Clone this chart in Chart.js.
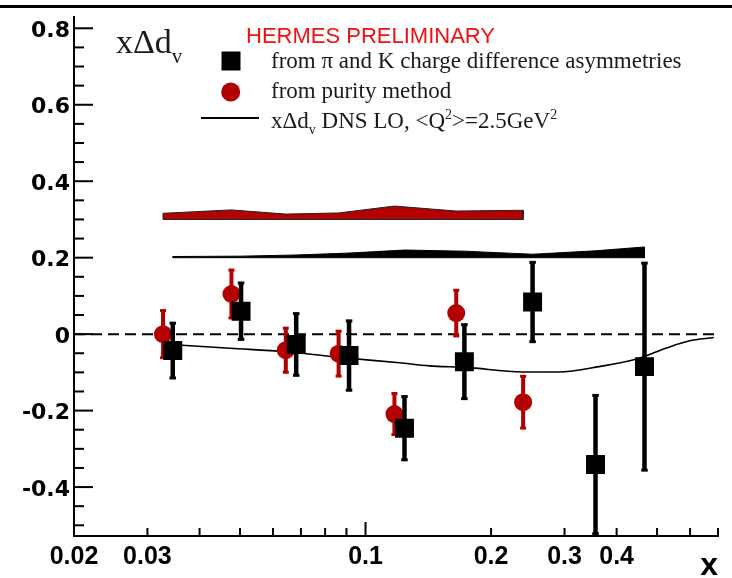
<!DOCTYPE html>
<html lang="en">
<head>
<meta charset="UTF-8">
<title>xΔd_v</title>
<script src="https://cdn.jsdelivr.net/npm/chart.js"></script>
<style>
    html, body { margin: 0; padding: 0; background: #fff; }
    #plot { display: block; }
</style>
</head>
<body>
<canvas id="plot" width="732" height="578"></canvas>

<script>
// charge difference asymmetries (black squares)
const chargeX   = [0.0345, 0.0503, 0.0682, 0.0913, 0.124, 0.1726, 0.2515, 0.356, 0.4665];
const chargeY   = [-0.043, 0.060, -0.027, -0.056, -0.246, -0.072, 0.084, -0.341, -0.085];
const chargeErr = [0.073, 0.075, 0.082, 0.092, 0.084, 0.098, 0.105, 0.182, 0.272];
const chargeSys = [0.003, 0.004, 0.007, 0.012, 0.020, 0.017, 0.009, 0.018, 0.028];

// purity method (red circles)
const purityX   = [0.0327, 0.0477, 0.0644, 0.0862, 0.1173, 0.165, 0.2387];
const purityY   = [0.000, 0.105, -0.042, -0.051, -0.209, 0.055, -0.178];
const purityErr = [0.063, 0.064, 0.059, 0.060, 0.055, 0.061, 0.069];
const puritySys = [0.016, 0.025, 0.014, 0.017, 0.035, 0.022, 0.024];

// DNS LO parametrisation at <Q2> = 2.5 GeV2
const dnsX = [0.034, 0.0473, 0.0644, 0.082, 0.0913, 0.1206, 0.1423, 0.1742, 0.2374, 0.291, 0.363, 0.4527, 0.5245, 0.5957, 0.684];
const dnsY = [-0.027, -0.037, -0.046, -0.058, -0.063, -0.075, -0.083, -0.087, -0.099, -0.099, -0.085, -0.063, -0.037, -0.018, -0.009];

// axes
const xTicks = [0.02, 0.03, 0.1, 0.2, 0.3, 0.4];
const xMinor = [0.04, 0.05, 0.06, 0.07, 0.08, 0.09, 0.5, 0.6, 0.7];
const yTicks = [-0.4, -0.2, 0, 0.2, 0.4, 0.6, 0.8];

// baselines of the systematic bands
const purityBase = 0.3;
const chargeBase = 0.2;

const RED = '#b30000';

function points(xs, ys) {
    return xs.map((x, i) => ({ x: x, y: ys[i] }));
}

// closed outline: band top left->right, then back along the baseline
function band(xs, sys, base) {
    const top = xs.map((x, i) => ({ x: x, y: base + sys[i] }));
    const n = xs.length;
    return top.concat([{ x: xs[n - 1], y: base }, { x: xs[0], y: base }, top[0]]);
}

// error bars, drawn just under the markers of their own dataset
const errorBars = {
    id: 'errorBars',
    beforeDatasetDraw(chart, args) {
        const ds = chart.data.datasets[args.index];
        if (!ds.errY) return;
        const ctx = chart.ctx, xs = chart.scales.x, ys = chart.scales.y, a = chart.chartArea;
        ctx.save();
        ctx.beginPath();
        ctx.rect(a.left, a.top, a.right - a.left, a.bottom - a.top);
        ctx.clip();
        ctx.strokeStyle = ds.backgroundColor;
        ctx.fillStyle = ds.backgroundColor;
        ctx.lineWidth = ds.errWidth;
        ds.data.forEach((p, i) => {
            const px = xs.getPixelForValue(p.x);
            const y1 = ys.getPixelForValue(p.y + ds.errY[i]);
            const y2 = ys.getPixelForValue(p.y - ds.errY[i]);
            ctx.beginPath();
            ctx.moveTo(px, y1);
            ctx.lineTo(px, y2);
            ctx.stroke();
            ctx.fillRect(px - ds.errWidth / 2 - 1, y1 - 1, ds.errWidth + 2, 3);
            ctx.fillRect(px - ds.errWidth / 2 - 1, y2 - 2, ds.errWidth + 2, 3);
        });
        ctx.restore();
    }
};

// dashed zero line
const zeroLine = {
    id: 'zeroLine',
    beforeDatasetsDraw(chart) {
        const ctx = chart.ctx, a = chart.chartArea;
        const y0 = chart.scales.y.getPixelForValue(0);
        ctx.save();
        ctx.strokeStyle = '#000';
        ctx.lineWidth = 2;
        ctx.setLineDash([11, 6]);
        ctx.beginPath();
        ctx.moveTo(a.left, y0);
        ctx.lineTo(a.right, y0);
        ctx.stroke();
        ctx.restore();
    }
};

// draws a row of text pieces; sub / sup pieces are smaller and shifted
function richText(ctx, x, y, parts, size, family, color) {
    ctx.fillStyle = color;
    ctx.textBaseline = 'alphabetic';
    ctx.textAlign = 'left';
    parts.forEach(p => {
        const s = p.sub || p.sup ? Math.round(size * 0.62) : size;
        const dy = p.sub ? size * 0.28 : (p.sup ? -size * 0.4 : 0);
        ctx.font = s + 'px ' + family;
        ctx.fillText(p.t, x, y + dy);
        x += ctx.measureText(p.t).width;
    });
}

// inward ticks, legend, titles and frame line
const decorations = {
    id: 'decorations',
    afterDraw(chart) {
        const ctx = chart.ctx, a = chart.chartArea;
        const xs = chart.scales.x, ys = chart.scales.y;
        ctx.save();
        ctx.strokeStyle = '#000';
        ctx.lineWidth = 2;

        // y ticks: majors every 0.2, minors every 0.05
        for (let k = -10; k <= 16; k++) {
            const v = k * 0.05;
            const py = ys.getPixelForValue(v);
            if (py < a.top || py > a.bottom) continue;
            const len = (k % 4 === 0) ? 19 : 10;
            ctx.beginPath();
            ctx.moveTo(a.left, py);
            ctx.lineTo(a.left + len, py);
            ctx.stroke();
        }

        // x ticks, longer one at the decade
        xTicks.concat(xMinor).forEach(v => {
            const px = xs.getPixelForValue(v);
            const len = Math.abs(v - 0.1) < 1e-9 ? 14 : 8;
            ctx.beginPath();
            ctx.moveTo(px, a.bottom);
            ctx.lineTo(px, a.bottom - len);
            ctx.stroke();
        });

        // frame line across the top
        ctx.lineWidth = 3;
        ctx.beginPath();
        ctx.moveTo(0, 6.5);
        ctx.lineTo(chart.width, 6.5);
        ctx.stroke();

        // axis titles
        richText(ctx, 116, 53, [{ t: 'xΔd' }, { t: 'v', sub: true }], 34, '"Liberation Serif", serif', '#1a1a1a');
        ctx.font = 'bold 32px "Liberation Sans", Arial, sans-serif';
        ctx.fillStyle = '#000';
        ctx.textAlign = 'right';
        ctx.fillText('x', 718, 575);

        // legend
        ctx.textAlign = 'left';
        ctx.font = '22px "Liberation Sans", Arial, sans-serif';
        ctx.fillStyle = '#f01010';
        ctx.fillText('HERMES PRELIMINARY', 246, 43);

        ctx.fillStyle = '#000';
        ctx.fillRect(221.5, 51.5, 19, 19);
        ctx.fillStyle = RED;
        ctx.beginPath();
        ctx.arc(230.7, 92, 9.5, 0, Math.PI * 2);
        ctx.fill();
        ctx.strokeStyle = '#000';
        ctx.lineWidth = 2;
        ctx.beginPath();
        ctx.moveTo(201, 118);
        ctx.lineTo(259, 118);
        ctx.stroke();

        const serif = '"Liberation Serif", serif';
        richText(ctx, 271, 68, [{ t: 'from π and K charge difference asymmetries' }], 23, serif, '#1a1a1a');
        richText(ctx, 271, 98, [{ t: 'from purity method' }], 23, serif, '#1a1a1a');
        richText(ctx, 271, 128, [
            { t: 'xΔd' }, { t: 'v', sub: true }, { t: ' DNS LO, <Q' }, { t: '2', sup: true },
            { t: '>=2.5GeV' }, { t: '2', sup: true }
        ], 23, serif, '#1a1a1a');
        ctx.restore();
    }
};

const config = {
    type: 'scatter',
    data: {
        datasets: [
            {
                label: 'purity sys',
                data: band(purityX, puritySys, purityBase),
                showLine: true,
                fill: 'shape',
                backgroundColor: RED,
                borderColor: '#222',
                borderWidth: 1,
                pointRadius: 0,
                tension: 0,
                order: 5
            },
            {
                label: 'charge sys',
                data: band(chargeX, chargeSys, chargeBase),
                showLine: true,
                fill: 'shape',
                backgroundColor: '#000',
                borderColor: '#000',
                borderWidth: 1,
                pointRadius: 0,
                tension: 0,
                order: 4
            },
            {
                label: 'DNS LO',
                data: points(dnsX, dnsY),
                showLine: true,
                borderColor: '#000',
                borderWidth: 1.6,
                pointRadius: 0,
                cubicInterpolationMode: 'monotone',
                order: 3
            },
            {
                label: 'from purity method',
                data: points(purityX, purityY),
                pointStyle: 'circle',
                pointRadius: 9,
                backgroundColor: RED,
                borderColor: RED,
                borderWidth: 0,
                errY: purityErr,
                errWidth: 4,
                order: 2
            },
            {
                label: 'from charge difference asymmetries',
                data: points(chargeX, chargeY),
                pointStyle: 'rect',
                pointRadius: 13.4,
                backgroundColor: '#000',
                borderColor: '#000',
                borderWidth: 0,
                errY: chargeErr,
                errWidth: 4.5,
                order: 1
            }
        ]
    },
    options: {
        responsive: false,
        animation: false,
        layout: { padding: { left: 0, right: 14, top: 17, bottom: 0 } },
        plugins: {
            legend: { display: false },
            tooltip: { enabled: false }
        },
        scales: {
            x: {
                type: 'logarithmic',
                min: 0.02,
                max: 0.7,
                grid: { display: false, drawTicks: false },
                border: { display: true, color: '#000', width: 2 },
                afterBuildTicks: scale => { scale.ticks = xTicks.map(v => ({ value: v })); },
                afterFit: scale => { scale.height = 42; },
                ticks: {
                    autoSkip: false,
                    maxRotation: 0,
                    padding: 6,
                    color: '#000',
                    font: { family: '"Liberation Sans", Arial, sans-serif', weight: 'bold', size: 25 },
                    callback: v => String(v)
                }
            },
            y: {
                min: -0.528,
                max: 0.829,
                grid: { display: false, drawTicks: false },
                border: { display: true, color: '#000', width: 2 },
                afterBuildTicks: scale => { scale.ticks = yTicks.map(v => ({ value: v })); },
                afterFit: scale => { scale.width = 74; },
                ticks: {
                    padding: 4,
                    labelOffset: 3,
                    color: '#000',
                    font: { family: '"DejaVu Sans", sans-serif', weight: 'bold', size: 22 },
                    callback: v => String(Math.round(v * 10) / 10)
                }
            }
        }
    },
    plugins: [zeroLine, errorBars, decorations]
};

new Chart(document.getElementById('plot').getContext('2d'), config);
</script>
</body>
</html>
